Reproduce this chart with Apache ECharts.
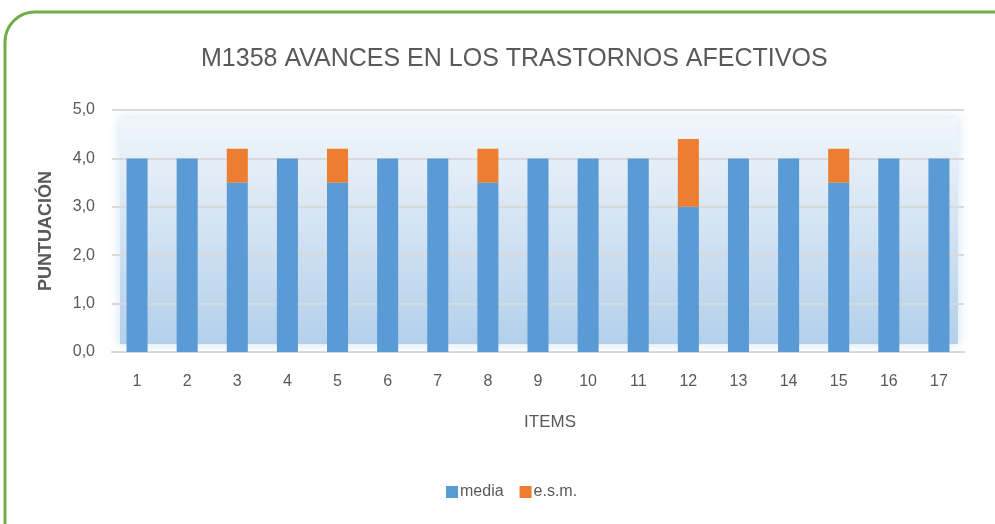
<!DOCTYPE html>
<html>
<head>
<meta charset="utf-8">
<script src="https://cdn.jsdelivr.net/npm/echarts@6/dist/echarts.min.js"></script>
<style>
  html, body { margin: 0; padding: 0; background: #fff; }
  #chart { width: 995px; height: 524px; }
</style>
</head>
<body>
<div id="chart"></div>
<script>
// data
const items = ['1', '2', '3', '4', '5', '6', '7', '8', '9', '10', '11', '12', '13', '14', '15', '16', '17'];
const media = [4, 4, 3.5, 4, 3.5, 4, 4, 3.5, 4, 4, 4, 3, 4, 4, 3.5, 4, 4];
const esm = [0, 0, 0.7, 0, 0.7, 0, 0, 0.7, 0, 0, 0, 1.4, 0, 0, 0.7, 0, 0];
const yTicks = [0, 1, 2, 3, 4, 5];

const font = '"Liberation Sans", sans-serif';
const grey = '#595959';

let myChart = echarts.init(document.getElementById('chart'));
window.onresize = function () {
    myChart.resize();
}

let option = {
    animation: false,
    textStyle: { fontFamily: font },
    title: {
        text: 'M1358 AVANCES EN LOS TRASTORNOS AFECTIVOS',
        left: 196,
        top: 42,
        textStyle: { fontFamily: font, fontSize: 25, fontWeight: 'normal', color: grey }
    },
    legend: {
        bottom: 19,
        left: 441,
        itemWidth: 12,
        itemHeight: 12,
        itemGap: 16,
        icon: 'rect',
        textStyle: { fontFamily: font, fontSize: 16, color: grey, padding: [0, 0, 0, -3] },
        data: ['media', 'e.s.m.']
    },
    graphic: [
        {
            // green rounded frame
            type: 'rect',
            z: 100,
            silent: true,
            shape: { x: 5, y: 12, width: 1020, height: 560, r: 30 },
            style: { fill: 'none', stroke: '#70AD47', lineWidth: 3 }
        },
        {
            // soft gradient panel behind the bars
            type: 'rect',
            z: -10,
            silent: true,
            shape: { x: 120, y: 118, width: 838, height: 226 },
            style: {
                fill: new echarts.graphic.LinearGradient(0, 0, 0, 1, [
                    { offset: 0, color: '#F1F6FB' },
                    { offset: 1, color: '#B3D0EB' }
                ]),
                shadowBlur: 10,
                shadowColor: 'rgba(200,220,240,0.9)'
            }
        }
    ],
    grid: { left: 112, right: 31, top: 110, bottom: 172 },
    xAxis: {
        type: 'category',
        data: items,
        name: 'ITEMS',
        nameLocation: 'middle',
        nameGap: 62,
        nameTextStyle: { fontFamily: font, fontSize: 17, color: grey, padding: [0, 0, 0, 24] },
        axisLine: { lineStyle: { color: '#D9D9D9', width: 2 } },
        axisTick: { show: false },
        axisLabel: { fontFamily: font, fontSize: 16, color: grey, margin: 22 }
    },
    yAxis: {
        type: 'value',
        min: yTicks[0],
        max: yTicks[yTicks.length - 1],
        interval: 1,
        name: 'PUNTUACIÓN',
        nameLocation: 'middle',
        nameGap: 57,
        nameTextStyle: { fontFamily: font, fontSize: 18, fontWeight: 'bold', color: grey },
        axisLine: { show: false },
        axisTick: { show: false },
        splitLine: { lineStyle: { color: '#D9D9D9', width: 2 } },
        axisLabel: {
            fontFamily: font, fontSize: 16, color: grey, margin: 17,
            formatter: function (v) { return v.toFixed(1).replace('.', ','); }
        }
    },
    series: [
        {
            name: 'media',
            type: 'bar',
            stack: 'total',
            data: media,
            barCategoryGap: '58%',
            itemStyle: { color: '#5B9BD5' }
        },
        {
            name: 'e.s.m.',
            type: 'bar',
            stack: 'total',
            data: esm,
            itemStyle: { color: '#ED7D31' }
        }
    ]
};
myChart.setOption(option);
</script>
</body>
</html>
